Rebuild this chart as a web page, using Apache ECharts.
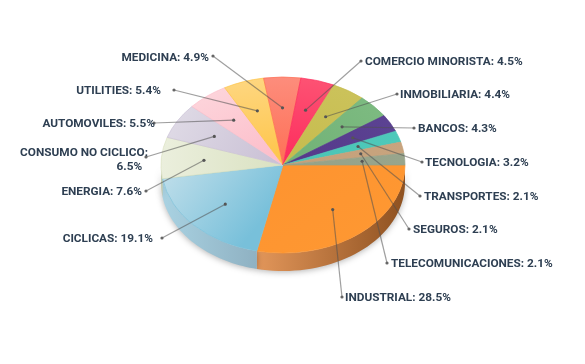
<!DOCTYPE html>
<html>
<head>
<meta charset="utf-8">
<style>
  html, body { margin: 0; padding: 0; background: #fff; }
  #chart { width: 585px; height: 364px; }
</style>
<script src="https://cdn.jsdelivr.net/npm/echarts@6/dist/echarts.min.js"></script>
</head>
<body>
<div id="chart"></div>
<script>
const sectors = ['INDUSTRIAL', 'CICLICAS', 'ENERGIA', 'CONSUMO NO CICLICO', 'AUTOMOVILES', 'UTILITIES', 'MEDICINA',
  'COMERCIO MINORISTA', 'INMOBILIARIA', 'BANCOS', 'TECNOLOGIA', 'TRANSPORTES', 'SEGUROS', 'TELECOMUNICACIONES']
const shares = [28.5, 19.1, 7.6, 6.5, 5.5, 5.4, 4.9, 4.5, 4.4, 4.3, 3.2, 2.1, 2.1, 2.1]

// slice colours, light side -> saturated side
const faceColors = [
  ['#fe9832', '#fe9430'], ['#bfdeea', '#78c0da'], ['#ebefdd', '#dae1c1'], ['#ded9e5', '#cbc2d6'],
  ['#fdd3da', '#fcbfcb'], ['#fed67f', '#fec54a'], ['#fd8d7c', '#fe6f55'], ['#fd5273', '#fd2c5d'],
  ['#cbc25a', '#c6bc4e'], ['#7cba80', '#72b277'], ['#5b4292', '#55398a'], ['#4dc9ba', '#4cc4b5'],
  ['#c8a47e', '#c4a07a'], ['#98a58c', '#96a288']
]
const wallColors = [
  ['#e2965a', '#8e5120'], ['#a9d2e2', '#8fb1c2'], ['#c9d1b2', '#b5c0a0']
]

// chart layout
const cx = 283, cy = 165, rx = 122, ry = 88, depth = 18
const dotRadius = 0.65
// where each leader line ends, and the label anchor beside it
const leaderEnds = [[342, 297], [162, 238], [146, 191], [146, 157], [154, 123], [174, 90], [213, 56],
  [361, 61], [397, 94], [414, 128], [422, 162], [420, 196], [409, 229], [387, 263]]
const labelAnchors = [[345, 298, 'left'], [153, 239, 'right'], [142, 192, 'right'], [148, 160, 'right'],
  [155, 124, 'right'], [161, 91, 'right'], [209, 58, 'right'], [365, 62, 'left'], [400, 95, 'left'],
  [418, 129, 'left'], [425, 163, 'left'], [424, 197, 'left'], [413, 230, 'left'], [391, 264, 'left']]

const total = shares.reduce((a, b) => a + b, 0)
const angles = []
let acc = 0
shares.forEach(v => {
  const start = acc / total * Math.PI * 2
  acc += v
  angles.push([start, acc / total * Math.PI * 2])
})

function rimPoint(a, dy) {
  return [cx + rx * Math.cos(a), cy + dy + ry * Math.sin(a)]
}

function renderWall(params, api) {
  const i = params.dataIndex
  const from = angles[i][0]
  const to = Math.min(angles[i][1], Math.PI)
  if (from >= Math.PI) return { type: 'group', children: [] }
  const top = [], bottom = []
  for (let k = 0; k <= 40; k++) {
    const a = from + (to - from) * k / 40
    top.push(rimPoint(a, 0))
    bottom.unshift(rimPoint(a, depth))
  }
  const c = wallColors[i]
  return {
    type: 'polygon',
    shape: { points: top.concat(bottom) },
    style: {
      fill: new echarts.graphic.LinearGradient(0, 0, 1, 0, [
        { offset: 0, color: c[0] },
        { offset: 1, color: c[1] }
      ]),
      shadowBlur: 6, shadowColor: 'rgba(0,0,0,0.3)', shadowOffsetY: 1
    }
  }
}

function renderFace(params, api) {
  const i = params.dataIndex
  const mid = (angles[i][0] + angles[i][1]) / 2
  const c = faceColors[i]
  // gradient runs along the slice, outer edge to centre; the big blue one runs left to right
  let grad = [0.5 + Math.cos(mid) / 2, 0.5 + Math.sin(mid) / 2, 0.5 - Math.cos(mid) / 2, 0.5 - Math.sin(mid) / 2]
  if (i === 1) grad = [0, 0.1, 0.85, 0.6]
  return {
    type: 'sector',
    x: cx,
    y: cy,
    scaleY: ry / rx,
    shape: { cx: 0, cy: 0, r0: 0, r: rx, startAngle: angles[i][0], endAngle: angles[i][1], clockwise: true },
    style: {
      fill: new echarts.graphic.LinearGradient(grad[0], grad[1], grad[2], grad[3], [
        { offset: 0, color: c[0] },
        { offset: 1, color: c[1] }
      ]),
      stroke: c[1],
      lineWidth: 0.8
    }
  }
}

function renderLeader(params, api) {
  const i = params.dataIndex
  const mid = (angles[i][0] + angles[i][1]) / 2
  const dot = [cx + rx * dotRadius * Math.cos(mid), cy + ry * dotRadius * Math.sin(mid)]
  const end = leaderEnds[i]
  const lineColor = 'rgba(80,80,80,0.55)'
  return {
    type: 'group',
    children: [
      { type: 'line', shape: { x1: dot[0], y1: dot[1], x2: end[0], y2: end[1] }, style: { stroke: lineColor, lineWidth: 1.2 } },
      { type: 'circle', shape: { cx: dot[0], cy: dot[1], r: 1.6 }, style: { fill: '#555' } },
      { type: 'circle', shape: { cx: end[0], cy: end[1], r: 1.6 }, style: { fill: '#666' } }
    ]
  }
}

function renderLabel(params, api) {
  const i = params.dataIndex
  const a = labelAnchors[i]
  const text = i === 3 ? sectors[i] + ':\n' + shares[i] + '%  ' : sectors[i] + ': ' + shares[i] + '%'
  return {
    type: 'text',
    style: {
      text: text,
      x: a[0],
      y: a[1],
      fill: '#2e3f52',
      font: 'bold 11.8px Roboto',
      lineHeight: 14,
      align: a[2],
      verticalAlign: 'middle',
      textAlign: a[2],
      textVerticalAlign: 'middle'
    }
  }
}

const chart = echarts.init(document.getElementById('chart'), null, { renderer: 'canvas' })
const data = shares.map(v => [v])
const layer = (renderItem, z) => ({
  type: 'custom',
  coordinateSystem: 'none',
  data: data,
  renderItem: renderItem,
  z: z,
  silent: true,
  animation: false
})

chart.setOption({
  animation: false,
  backgroundColor: '#fff',
  series: [layer(renderWall, 1), layer(renderFace, 2), layer(renderLeader, 3), layer(renderLabel, 4)]
})
</script>
</body>
</html>
